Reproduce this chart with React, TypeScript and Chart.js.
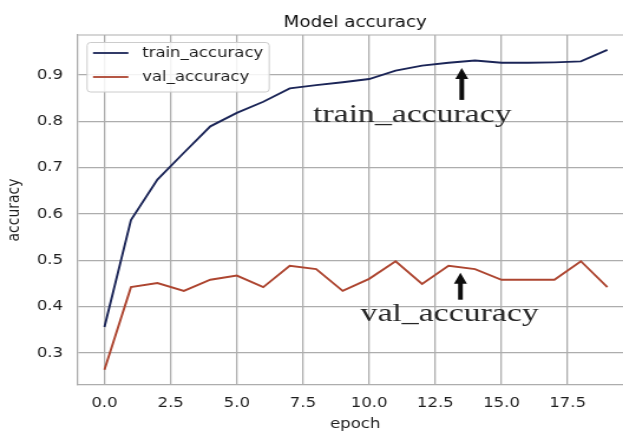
import React, { useEffect, useRef } from "react";
import { Chart, registerables } from "chart.js";

Chart.register(...registerables);

// ---- data ----
const epochs = [0, 1, 2, 3, 4, 5, 6, 7, 8, 9, 10, 11, 12, 13, 14, 15, 16, 17, 18, 19];
const trainAccuracy = [0.356, 0.587, 0.674, 0.732, 0.789, 0.818, 0.842, 0.871, 0.878, 0.884, 0.891, 0.909, 0.920, 0.926, 0.931, 0.926, 0.926, 0.927, 0.929, 0.954];
const valAccuracy = [0.264, 0.442, 0.451, 0.434, 0.458, 0.467, 0.442, 0.488, 0.481, 0.434, 0.460, 0.498, 0.449, 0.488, 0.481, 0.458, 0.458, 0.458, 0.498, 0.442];
const seriesLabels = ["train_accuracy", "val_accuracy"];
const yTickValues = [0.3, 0.4, 0.5, 0.6, 0.7, 0.8, 0.9];
const xTickValues = [0, 2.5, 5, 7.5, 10, 12.5, 15, 17.5];
const chartTitle = "Model accuracy";
const xTitle = "epoch";
const yTitle = "accuracy";
const annotationTexts = ["train_accuracy", "val_accuracy"];
// annotation anchors in data units: text centre x, text baseline y, arrow x, arrow tail y, arrow tip y
const annotationTextX = [11.63, 13.04];
const annotationTextY = [0.799, 0.368];
const arrowX = [13.5, 13.45];
const arrowTail = [0.846, 0.415];
const arrowTip = [0.915, 0.473];

// ---- styling ----
const STRETCH = 1.18;
const CW = 545;
const CH = 433;
const SANS = "'DejaVu Sans', sans-serif";
const SERIF = "'Liberation Serif', serif";
const TRAIN_COLOR = "#1b2557";
const VAL_COLOR = "#ad4530";
const GRID = "#adadad";

const extrasPlugin = {
  id: "extras",
  afterDraw(chart: any) {
    const { ctx, chartArea, scales } = chart;
    const xs = scales.x;
    const ys = scales.y;
    ctx.save();
    // top spine
    ctx.strokeStyle = GRID;
    ctx.lineWidth = 1.2;
    ctx.beginPath();
    ctx.moveTo(chartArea.left, chartArea.top);
    ctx.lineTo(chartArea.right, chartArea.top);
    ctx.stroke();

    // annotations
    for (let i = 0; i < annotationTexts.length; i++) {
      const tx = xs.getPixelForValue(annotationTextX[i]);
      const ty = ys.getPixelForValue(annotationTextY[i]);
      ctx.save();
      ctx.font = `26px ${SERIF}`;
      ctx.fillStyle = "#262626";
      ctx.textAlign = "center";
      ctx.textBaseline = "alphabetic";
      ctx.translate(tx, ty);
      ctx.scale(1.1, 1);
      ctx.fillText(annotationTexts[i], 0, 0);
      ctx.restore();

      const ax = xs.getPixelForValue(arrowX[i]);
      const yTail = ys.getPixelForValue(arrowTail[i]);
      const yTip = ys.getPixelForValue(arrowTip[i]);
      const headLen = 11;
      const headHalf = 5.5;
      const shaftHalf = 2;
      ctx.fillStyle = "#0d0d0d";
      ctx.fillRect(ax - shaftHalf, yTip + headLen - 1, shaftHalf * 2, yTail - yTip - headLen + 1);
      ctx.beginPath();
      ctx.moveTo(ax, yTip);
      ctx.lineTo(ax - headHalf, yTip + headLen);
      ctx.lineTo(ax + headHalf, yTip + headLen);
      ctx.closePath();
      ctx.fill();
    }

    // legend
    ctx.font = `14px ${SANS}`;
    const bx = chartArea.left + 7.7;
    const by = chartArea.top + 7.5;
    const textOff = 46.6;
    let maxW = 0;
    chart.data.datasets.forEach((d: any) => {
      maxW = Math.max(maxW, ctx.measureText(d.label).width);
    });
    const bw = textOff + maxW + 5;
    const bh = 49.5;
    ctx.beginPath();
    const r = 3;
    ctx.moveTo(bx + r, by);
    ctx.lineTo(bx + bw - r, by);
    ctx.quadraticCurveTo(bx + bw, by, bx + bw, by + r);
    ctx.lineTo(bx + bw, by + bh - r);
    ctx.quadraticCurveTo(bx + bw, by + bh, bx + bw - r, by + bh);
    ctx.lineTo(bx + r, by + bh);
    ctx.quadraticCurveTo(bx, by + bh, bx, by + bh - r);
    ctx.lineTo(bx, by + r);
    ctx.quadraticCurveTo(bx, by, bx + r, by);
    ctx.closePath();
    ctx.fillStyle = "rgba(255,255,255,0.85)";
    ctx.fill();
    ctx.strokeStyle = "#cccccc";
    ctx.lineWidth = 1;
    ctx.stroke();
    chart.data.datasets.forEach((d: any, i: number) => {
      const cy = by + 10.5 + i * 24;
      ctx.strokeStyle = d.borderColor;
      ctx.lineWidth = 1.8;
      ctx.beginPath();
      ctx.moveTo(bx + 5, cy);
      ctx.lineTo(bx + 35, cy);
      ctx.stroke();
      ctx.fillStyle = "#1e1e1e";
      ctx.textAlign = "left";
      ctx.textBaseline = "middle";
      ctx.fillText(d.label, bx + textOff, cy);
    });
    ctx.restore();
  },
};

export default function App() {
  const ref = useRef<HTMLCanvasElement | null>(null);

  useEffect(() => {
    if (!ref.current) return;
    const chart = new Chart(ref.current, {
      type: "line",
      data: {
        datasets: [
          {
            label: seriesLabels[0],
            data: epochs.map((e, i) => ({ x: e, y: trainAccuracy[i] })),
            borderColor: TRAIN_COLOR,
            backgroundColor: TRAIN_COLOR,
            borderWidth: 1.9,
            pointRadius: 0,
            tension: 0,
          },
          {
            label: seriesLabels[1],
            data: epochs.map((e, i) => ({ x: e, y: valAccuracy[i] })),
            borderColor: VAL_COLOR,
            backgroundColor: VAL_COLOR,
            borderWidth: 1.9,
            pointRadius: 0,
            tension: 0,
          },
        ],
      },
      options: {
        responsive: false,
        animation: false,
        devicePixelRatio: 1,
        layout: { padding: { left: 0, right: 9, top: 0, bottom: 0 } },
        plugins: {
          legend: { display: false },
          tooltip: { enabled: false },
          title: {
            display: true,
            text: chartTitle,
            fullSize: false,
            color: "#111",
            font: { family: SANS, size: 15.5, weight: "normal" },
            padding: { top: 13.5, bottom: 2.9 },
          },
        },
        scales: {
          x: {
            type: "linear",
            min: -1,
            max: 19.95,
            afterBuildTicks: (s: any) => {
              s.ticks = xTickValues.map((v) => ({ value: v }));
            },
            afterFit: (s: any) => {
              s.height = 48;
            },
            ticks: {
              autoSkip: false,
              maxRotation: 0,
              padding: 10,
              color: "#1e1e1e",
              font: { family: SANS, size: 14 },
              callback: (v: any) => Number(v).toFixed(1),
            },
            grid: { color: GRID, lineWidth: 1.3, drawTicks: false },
            border: { display: true, color: GRID, width: 1.3 },
            title: {
              display: true,
              text: xTitle,
              color: "#1e1e1e",
              font: { family: SANS, size: 14 },
              padding: { top: 0, bottom: 0 },
            },
          },
          y: {
            type: "linear",
            min: 0.231,
            max: 0.986,
            afterBuildTicks: (s: any) => {
              s.ticks = yTickValues.map((v) => ({ value: v }));
            },
            afterFit: (s: any) => {
              s.width = 66.1;
            },
            ticks: {
              padding: 12.7,
              color: "#1e1e1e",
              font: { family: SANS, size: 14 },
              callback: (v: any) => Number(v).toFixed(1),
            },
            grid: { color: GRID, lineWidth: 1.3, drawTicks: false },
            border: { display: true, color: GRID, width: 1.3 },
            title: {
              display: true,
              text: yTitle,
              color: "#1e1e1e",
              font: { family: SANS, size: 14 },
              padding: { top: 4.3, bottom: 0 },
            },
          },
        },
      },
      plugins: [extrasPlugin],
    } as any);
    return () => chart.destroy();
  }, []);

  return (
    <div
      style={{
        position: "fixed",
        left: 0,
        top: 0,
        width: 623,
        height: 433,
        overflow: "hidden",
        background: "#fff",
      }}
    >
      <canvas
        ref={ref}
        width={CW}
        height={CH}
        style={{
          display: "block",
          transform: `scaleX(${STRETCH})`,
          transformOrigin: "0 0",
        }}
      />
    </div>
  );
}
